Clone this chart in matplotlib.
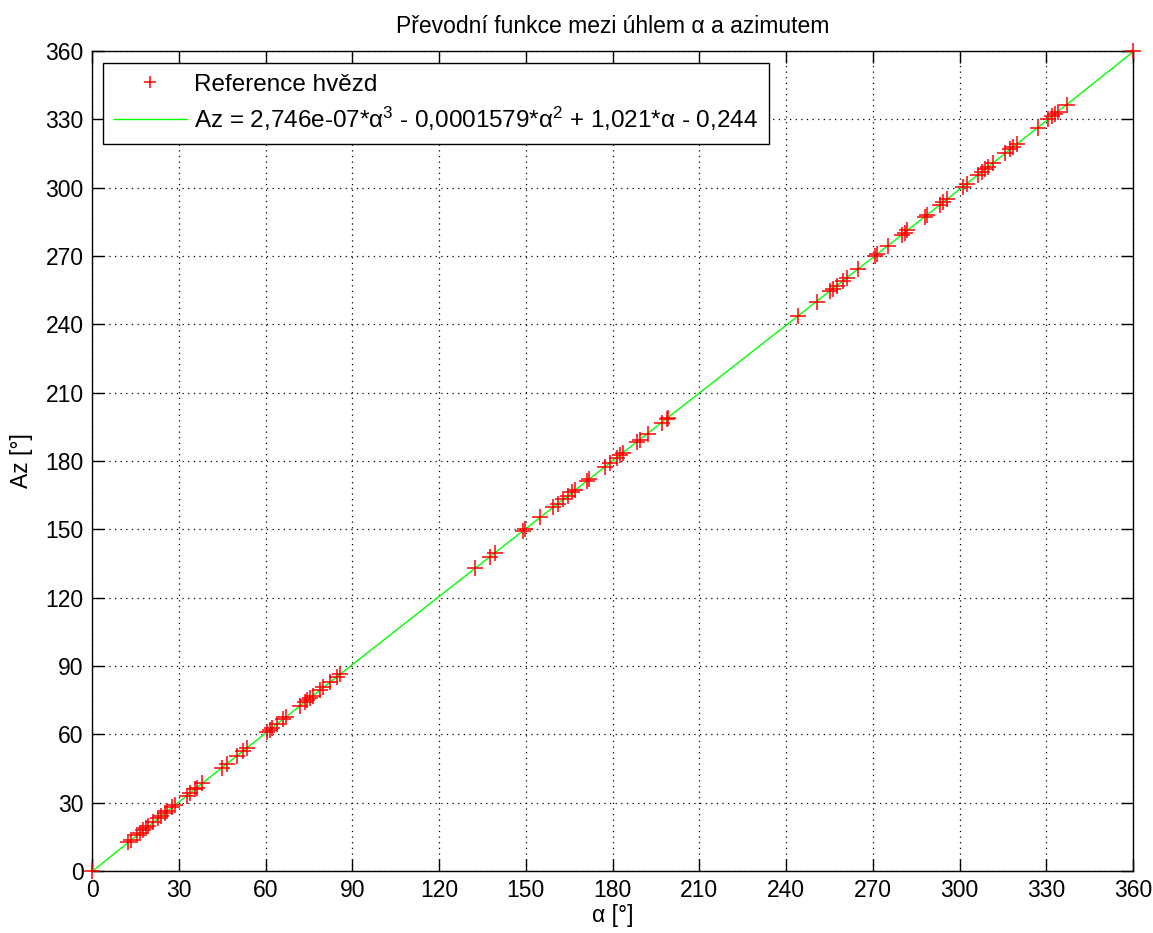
import numpy as np
import matplotlib
matplotlib.use("Agg")
import matplotlib.pyplot as plt

plt.rcParams['font.family'] = ['Liberation Sans', 'DejaVu Sans']
plt.rcParams['mathtext.fontset'] = 'custom'
plt.rcParams['mathtext.rm'] = 'Liberation Sans'
plt.rcParams['mathtext.it'] = 'Liberation Sans'

# Reference stars: alpha [deg] and azimuth [deg]
alpha = [0, 12.5, 13.5, 15.5, 16.5, 17.7, 18.5, 19.4, 21, 22.8, 24, 25.2, 25.9, 27.6, 28.7,
         32.8, 33.9, 35.5, 36.3, 38, 45, 46.7, 50, 52.2, 53.5,
         60.5, 61.5, 62.2, 64, 66, 67, 72, 73.6, 74.5, 75.4, 76.5, 78.8, 80, 82.3, 84.7, 85.8,
         132.4, 137.6, 139.4, 149, 149.7, 155, 159.5, 161, 163, 164.6, 166, 167, 171, 172,
         177.4, 179, 181.5, 182.6, 183.6, 188.4, 189.5, 192.3, 197, 198.8, 199.2,
         244, 250.6, 255.2, 256.2, 257.6, 259.7, 261, 264.9, 270.7, 271.4, 275.3,
         280, 281, 282, 288, 288.7, 293.2, 294.3, 295.6, 301.2, 302.5,
         306.4, 307.7, 308.8, 309.8, 311.6, 315.7, 317.4, 318.5, 319.8,
         327, 330.6, 331.9, 333, 334, 337, 360]
az = [0, 12.7, 13.8, 15.7, 16.8, 18.0, 18.8, 19.6, 21.3, 23.1, 24.3, 25.4, 26.2, 27.9, 28.9,
      33.1, 34.2, 35.8, 36.6, 38.4, 45.4, 47.1, 50.5, 52.7, 54.0,
      61.0, 62.0, 62.7, 64.5, 66.6, 67.5, 72.6, 74.1, 75.0, 76.0, 77.0, 79.4, 80.6, 82.8, 85.3, 86.4,
      132.9, 138.0, 139.8, 149.3, 150.0, 155.2, 159.7, 161.2, 163.2, 164.8, 166.2, 167.1, 171.1, 172.1,
      177.4, 179.0, 181.4, 182.5, 183.5, 188.2, 189.3, 192.0, 196.7, 198.4, 198.8,
      243.5, 250.0, 254.6, 255.6, 256.9, 259.0, 260.3, 264.3, 270.0, 270.7, 274.6,
      279.3, 280.3, 281.3, 287.3, 288.0, 292.5, 293.6, 294.9, 300.5, 301.8,
      305.7, 307.0, 308.1, 309.1, 310.9, 315.1, 316.8, 317.9, 319.2,
      326.4, 330.0, 331.3, 332.4, 333.4, 336.5, 360]

# Fitted polynomial coefficients (from legend)
coef = [2.746e-07, -0.0001579, 1.021, -0.244]
ticks = [0, 30, 60, 90, 120, 150, 180, 210, 240, 270, 300, 330, 360]

fig = plt.figure(figsize=(11.53, 9.33), dpi=100)
ax = fig.add_axes([0.0798, 0.0665, 0.9029, 0.8788])

ax.plot(alpha, az, '+', color='#ff0000', markersize=11, markeredgewidth=1.1,
        label='Reference hvězd', zorder=3, clip_on=False)
xf = np.linspace(0, 360, 361)
ax.plot(xf, np.polyval(coef, xf), '-', color='#00ff00', linewidth=1.0,
        label='Az = 2,746e-07*α$^{3}$ - 0,0001579*α$^{2}$ + 1,021*α - 0,244', zorder=2)

ax.set_xlim(0, 360)
ax.set_ylim(0, 360)
ax.set_xticks(ticks)
ax.set_yticks(ticks)
ax.grid(True, linestyle=(0, (1, 3.5)), color='black', linewidth=0.9)
ax.tick_params(direction='in', top=True, right=True, length=8.5, width=1,
               labelsize=16.5, pad=6)
for s in ax.spines.values():
    s.set_linewidth(1.0)

ax.set_title('Převodní funkce mezi úhlem α a azimutem', fontsize=16.5, pad=13)
ax.set_xlabel('α [°]', fontsize=16.5, labelpad=1)
ax.set_ylabel('Az [°]', fontsize=16.5, labelpad=9)

leg = ax.legend(loc='upper left', bbox_to_anchor=(0.0106, 0.9854), fontsize=17.5,
                handlelength=3.0, handletextpad=0.3, frameon=True, fancybox=False,
                borderaxespad=0, edgecolor='black', framealpha=1,
                borderpad=0.45, labelspacing=0.35, markerscale=0.85)
leg.get_frame().set_linewidth(1.0)

fig.savefig('out.png', dpi=100)
